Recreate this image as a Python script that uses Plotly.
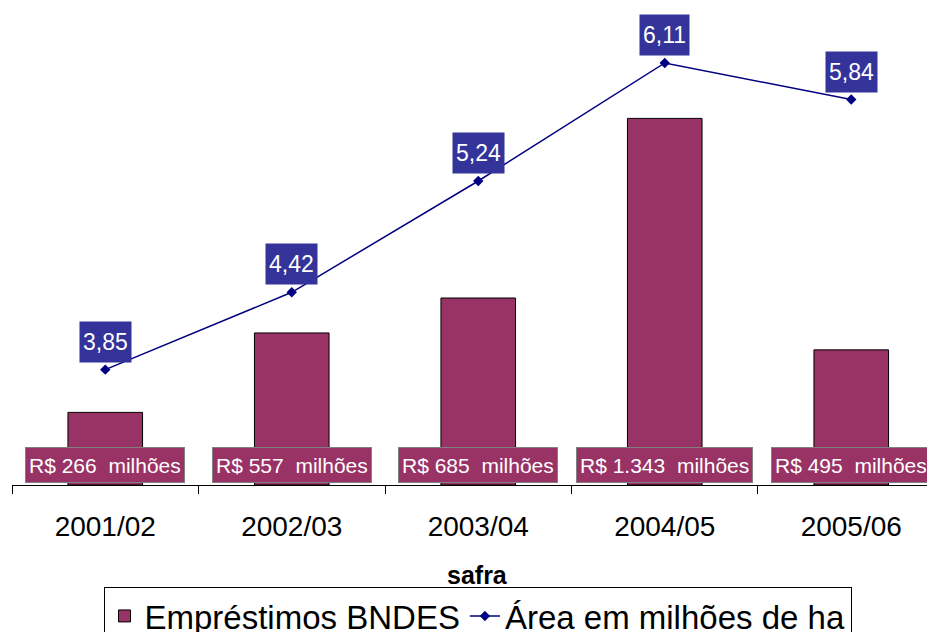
import plotly.graph_objects as go

safras = ["2001/02", "2002/03", "2003/04", "2004/05", "2005/06"]
emprestimos = [266, 557, 685, 1343, 495]  # R$ milhões
area = [3.85, 4.42, 5.24, 6.11, 5.84]  # milhões de ha

FONT = "Arial, Liberation Sans, sans-serif"
MAROON = "#993366"
NAVY = "#000080"


def main() -> None:
    fig = go.Figure()

    fig.add_trace(
        go.Bar(
            x=safras,
            y=emprestimos,
            name="Empréstimos BNDES",
            width=0.4,
            marker=dict(color=MAROON, line=dict(color="black", width=1)),
        )
    )

    fig.add_trace(
        go.Scatter(
            x=safras,
            y=area,
            yaxis="y2",
            mode="lines+markers",
            name="Área em milhões de ha",
            line=dict(color=NAVY, width=1.5),
            marker=dict(symbol="diamond", size=8, color=NAVY),
        )
    )

    # value labels for the bars, in boxes sitting on the axis
    for s, v in zip(safras, emprestimos):
        txt = "R$ " + f"{v:,}".replace(",", ".") + "  milhões"
        fig.add_annotation(
            x=s, y=0.043, xref="x", yref="paper",
            xanchor="center", yanchor="middle",
            text=txt, showarrow=False, height=28,
            font=dict(family=FONT, size=21, color="white"),
            bgcolor=MAROON, bordercolor="#808080", borderwidth=1, borderpad=3,
        )

    # value labels above the line points
    for s, v in zip(safras, area):
        fig.add_annotation(
            x=s, y=v, xref="x", yref="y2",
            xanchor="center", yanchor="middle",
            text=f"{v:.2f}".replace(".", ","), showarrow=False,
            yshift=28, height=34,
            font=dict(family=FONT, size=23, color="white"),
            bgcolor="#333399", borderpad=3,
        )

    fig.add_annotation(
        x=0.5, y=-0.189, xref="paper", yref="paper",
        xanchor="center", yanchor="middle",
        text="<b>safra</b>", showarrow=False,
        font=dict(family=FONT, size=25, color="black"),
    )

    # page body adds an 8px offset, margins compensate for it
    fig.update_layout(
        width=935,
        height=632,
        margin=dict(l=4, r=0, t=2, b=155, autoexpand=False),
        paper_bgcolor="white",
        plot_bgcolor="white",
        font=dict(family=FONT, color="black"),
        xaxis=dict(
            type="category",
            range=[-0.5, 4.492],
            tickson="boundaries",
            ticks="outside",
            ticklen=8,
            tickcolor="black",
            showline=True,
            linecolor="black",
            linewidth=1,
            showgrid=False,
            automargin=False,
            ticklabelstandoff=16,
            tickfont=dict(family=FONT, size=28),
        ),
        yaxis=dict(range=[0, 1740], visible=False, showgrid=False),
        yaxis2=dict(range=[3, 6.5], overlaying="y", visible=False, showgrid=False),
        showlegend=True,
        legend=dict(
            orientation="h",
            x=0.5, xanchor="center",
            y=-0.2147, yanchor="top",
            bordercolor="black", borderwidth=1,
            font=dict(family=FONT, size=33),
            itemwidth=30,
        ),
    )

    fig.write_html("out.html")


if __name__ == "__main__":
    main()
